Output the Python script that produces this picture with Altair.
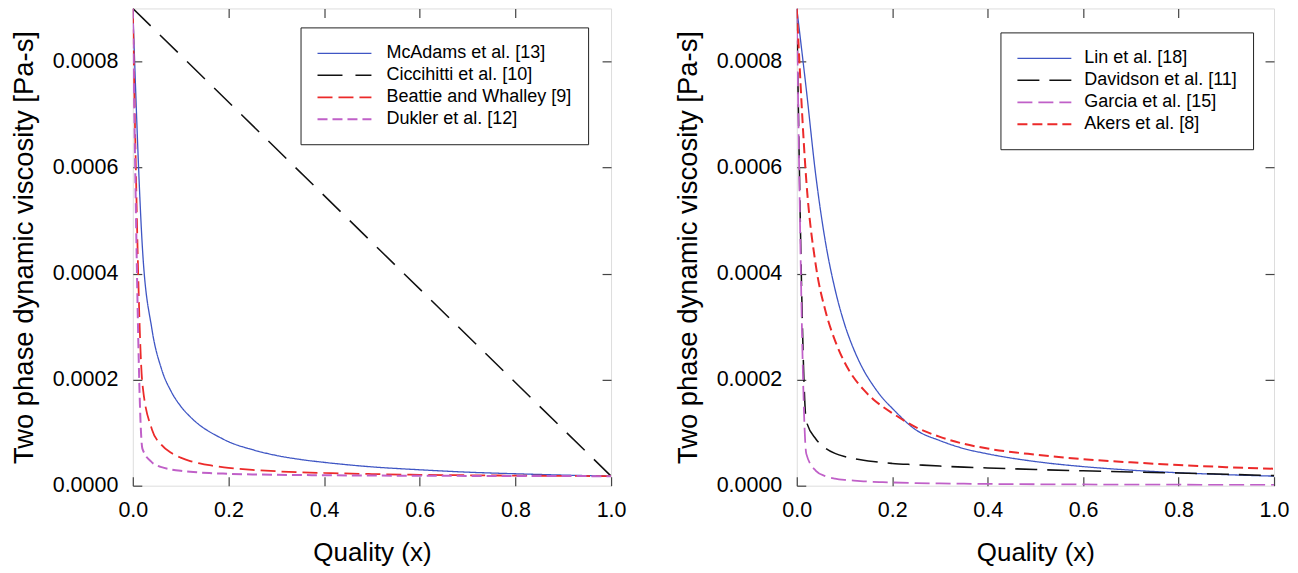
import altair as alt
import pandas as pd

# ---------------- data ----------------
X_GRID = [0.0, 0.02, 0.04, 0.06, 0.08, 0.10, 0.12, 0.14, 0.16, 0.18, 0.20,
          0.25, 0.30, 0.35, 0.40, 0.50, 0.60, 0.70, 0.80, 0.90, 1.00]

# left panel
mcadams = [9.0e-4, 4.5e-4, 2.95e-4, 2.2e-4, 1.78e-4, 1.5e-4, 1.3e-4, 1.14e-4, 1.02e-4, 9.2e-5, 8.3e-5,
           6.8e-5, 5.7e-5, 4.95e-5, 4.4e-5, 3.55e-5, 3.0e-5, 2.55e-5, 2.25e-5, 2.0e-5, 1.8e-5]
cicchitti_x = [0.0, 1.0]
cicchitti = [9.0e-4, 1.8e-5]
beattie = [9.0e-4, 1.93e-4, 1.06e-4, 7.7e-5, 6.2e-5, 5.3e-5, 4.65e-5, 4.2e-5, 3.86e-5, 3.6e-5, 3.37e-5,
           2.98e-5, 2.72e-5, 2.54e-5, 2.4e-5, 2.2e-5, 2.06e-5, 1.97e-5, 1.9e-5, 1.85e-5, 1.8e-5]
dukler = [9.0e-4, 7.0e-5, 4.4e-5, 3.5e-5, 3.07e-5, 2.8e-5, 2.61e-5, 2.48e-5, 2.38e-5, 2.31e-5, 2.24e-5,
          2.13e-5, 2.06e-5, 2.01e-5, 1.97e-5, 1.91e-5, 1.88e-5, 1.85e-5, 1.83e-5, 1.81e-5, 1.8e-5]

# right panel
lin = [9.0e-4, 7.47e-4, 5.84e-4, 4.6e-4, 3.71e-4, 3.05e-4, 2.56e-4, 2.18e-4, 1.89e-4, 1.65e-4, 1.46e-4,
       1.05e-4, 8.5e-5, 7.0e-5, 6.0e-5, 4.55e-5, 3.6e-5, 2.93e-5, 2.44e-5, 2.08e-5, 1.8e-5]
davidson = [9.0e-4, 1.22e-4, 8.8e-5, 7.1e-5, 6.1e-5, 5.5e-5, 5.1e-5, 4.8e-5, 4.55e-5, 4.35e-5, 4.2e-5,
            3.95e-5, 3.7e-5, 3.5e-5, 3.35e-5, 3.05e-5, 2.8e-5, 2.6e-5, 2.4e-5, 2.15e-5, 1.9e-5]
garcia = [9.0e-4, 6.0e-5, 2.8e-5, 1.8e-5, 1.35e-5, 1.1e-5, 9.5e-6, 8.3e-6, 7.4e-6, 6.7e-6, 6.1e-6,
          5.0e-6, 4.2e-6, 3.7e-6, 3.3e-6, 2.7e-6, 2.3e-6, 2.0e-6, 1.8e-6, 1.6e-6, 1.5e-6]
akers = [9.0e-4, 5.75e-4, 4.15e-4, 3.3e-4, 2.74e-4, 2.33e-4, 2.03e-4, 1.81e-4, 1.63e-4, 1.49e-4, 1.37e-4,
         1.1e-4, 9.2e-5, 7.9e-5, 7.0e-5, 5.85e-5, 5.0e-5, 4.4e-5, 3.9e-5, 3.5e-5, 3.2e-5]

LEFT_NAMES = ["McAdams et al. [13]", "Ciccihitti et al. [10]", "Beattie and Whalley [9]", "Dukler et al. [12]"]
RIGHT_NAMES = ["Lin et al. [18]", "Davidson et al. [11]", "Garcia et al. [15]", "Akers et al. [8]"]

X_TICKS = [0.0, 0.2, 0.4, 0.6, 0.8, 1.0]
Y_TICKS = [0.0, 0.0002, 0.0004, 0.0006, 0.0008]

BLUE, BLACK, RED, PURPLE = "#3f56c4", "#111111", "#ec2a2a", "#c060c8"
FONT = "Liberation Sans"


def table(names, xs, ys):
    rows = []
    for n, xl, yl in zip(names, xs, ys):
        for i, (a, b) in enumerate(zip(xl, yl)):
            rows.append({"series": n, "x": a, "y": b, "order": i})
    return pd.DataFrame(rows)


left_df = table(LEFT_NAMES, [X_GRID, cicchitti_x, X_GRID, X_GRID], [mcadams, cicchitti, beattie, dukler])
right_df = table(RIGHT_NAMES, [X_GRID, X_GRID, X_GRID, X_GRID], [lin, davidson, garcia, akers])


def panel(df, names, colors, dashes, widths, lx, ly, width, height, label_offset):
    xs = alt.Scale(domain=[0, 1], nice=False)
    ys = alt.Scale(domain=[0, 0.0009], nice=False)
    legend = alt.Legend(orient="none", legendX=lx, legendY=ly, title=None,
                        strokeColor="#222", fillColor="white", padding=16,
                        symbolType="M-1,0H5", symbolSize=324,
                        labelFont=FONT, labelFontSize=18, labelColor="black",
                        rowPadding=3, labelOffset=label_offset, labelLimit=400)
    ax_b = alt.Axis(orient="bottom", values=X_TICKS, format=".1f", offset=-9, tickSize=9,
                    domain=False, grid=False, labelFlush=False, labelOverlap=False, labelPadding=14,
                    labelFont=FONT, labelFontSize=21.5, labelColor="black",
                    tickColor="#444", tickWidth=1.2,
                    title="Quality (x)", titleFont=FONT, titleFontSize=26, titleFontWeight="normal",
                    titleColor="black", titlePadding=18)
    ax_l = alt.Axis(orient="left", values=Y_TICKS, format=".4f", offset=-9, tickSize=9,
                    domain=False, grid=False, labelOverlap=False, labelPadding=15,
                    labelFont=FONT, labelFontSize=21.5, labelColor="black",
                    tickColor="#444", tickWidth=1.2,
                    title="Two phase dynamic viscosity [Pa-s]", titleFont=FONT, titleFontSize=27.5,
                    titleFontWeight="normal", titleColor="black", titlePadding=14)
    ax_t = alt.Axis(orient="top", values=X_TICKS[1:-1], offset=-9, tickSize=9, domain=False,
                    grid=False, labels=False, title=None, tickColor="#444", tickWidth=1.2)
    ax_r = alt.Axis(orient="right", values=Y_TICKS[1:], offset=-9, tickSize=9, domain=False,
                    grid=False, labels=False, title=None, tickColor="#444", tickWidth=1.2)

    lines = alt.Chart(df).mark_line(clip=True, interpolate="monotone").encode(
        x=alt.X("x:Q", scale=xs, axis=ax_b),
        y=alt.Y("y:Q", scale=ys, axis=ax_l),
        color=alt.Color("series:N", scale=alt.Scale(domain=names, range=colors), sort=names, legend=legend),
        strokeDash=alt.StrokeDash("series:N", scale=alt.Scale(domain=names, range=dashes), sort=names,
                                  legend=legend),
        strokeWidth=alt.StrokeWidth("series:N", scale=alt.Scale(domain=names, range=widths), sort=names,
                                    legend=legend),
        order="order:Q",
    )
    mirror = alt.Chart(df).mark_point(opacity=0, size=0, strokeWidth=0, clip=True).encode(
        x=alt.X("x:Q", scale=xs, axis=ax_t),
        y=alt.Y("y:Q", scale=ys, axis=ax_r),
    )
    return alt.layer(lines, mirror).resolve_axis(x="independent", y="independent").properties(
        width=width, height=height)


left = panel(left_df, LEFT_NAMES, [BLUE, BLACK, RED, PURPLE],
             [[1, 0], [25, 13], [15, 6], [10, 5]], [1.3, 2.0, 1.6, 1.5], 168, 19, 479, 478, 50)
right = panel(right_df, RIGHT_NAMES, [BLUE, BLACK, PURPLE, RED],
              [[1, 0], [22, 10], [15, 6], [10, 5]], [1.3, 2.0, 1.5, 1.6], 204, 24, 478, 478, 48)

chart = alt.hconcat(left, right, spacing=186, bounds="flush").resolve_scale(
    color="independent", strokeDash="independent", strokeWidth="independent"
).configure_view(stroke="#444", strokeWidth=1.5).configure_legend(strokeWidth=1.5).configure(
    padding={"left": 1, "top": -2, "right": 0, "bottom": 0}, background="white")

chart.save("out.html", embed_options={"renderer": "svg", "actions": False})
